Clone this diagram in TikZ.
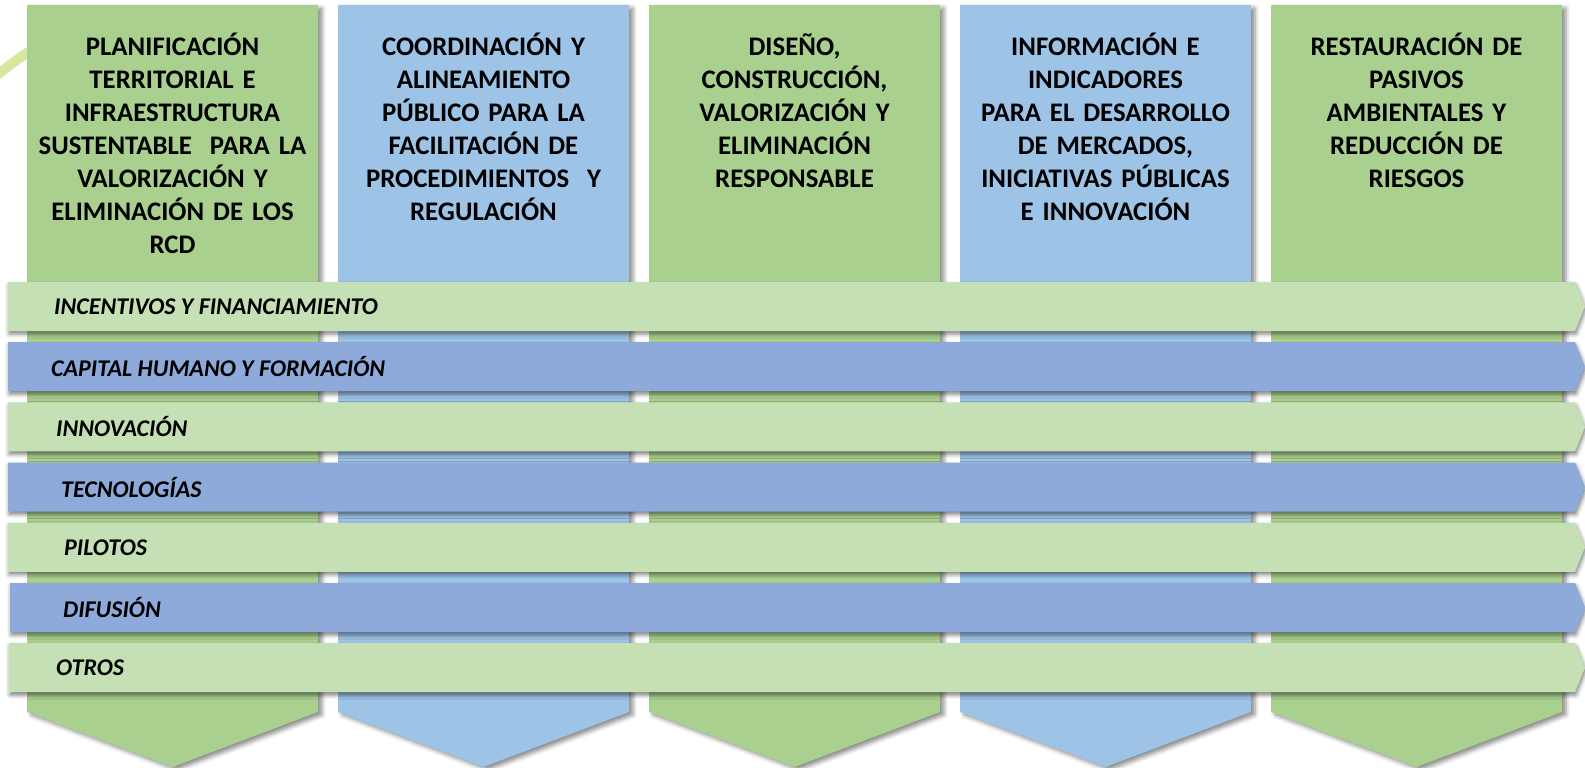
\documentclass[tikz,border=0pt]{standalone}
\usepackage{fontspec}
\setmainfont{Carlito}
\usetikzlibrary{shadows.blur}
\definecolor{colGreen}{RGB}{169, 208, 142}
\definecolor{colBlue}{RGB}{157, 195, 230}
\definecolor{bandGreen}{RGB}{197, 224, 180}
\definecolor{bandBlue}{RGB}{142, 170, 219}
\definecolor{arcGreen}{RGB}{214, 232, 160}

\begin{document}
\begin{tikzpicture}[x=1pt, y=-1pt,
    column/.style={blur shadow={shadow xshift=4pt, shadow yshift=-3pt,
        shadow blur radius=4pt, shadow opacity=45}},
    band/.style={blur shadow={shadow xshift=1pt, shadow yshift=-3pt,
        shadow blur radius=4pt, shadow opacity=50}},
    coltext/.style={anchor=north, inner sep=0pt, text width=285pt, align=center,
        font=\bfseries\fontsize{26.8}{33}\selectfont},
    bandtext/.style={anchor=west, inner sep=0pt,
        font=\bfseries\itshape\fontsize{24}{28}\selectfont}
]
    \useasboundingbox (0,0) rectangle (1585,768);

    % piece of the background arc
    \draw[arcGreen, line width=10pt] (-5,77) to[bend left=4] (35,48);

    % columns
    \foreach \i/\fillc in {0/colGreen, 1/colBlue, 2/colGreen, 3/colBlue, 4/colGreen} {
        \pgfmathsetmacro{\xl}{27+311*\i}
        \fill[column, \fillc] (\xl,5) -- ++(291,0) -- ++(0,707)
            -- ++(-145.5,55) -- ++(-145.5,-55) -- cycle;
    }

    \node[coltext] (plan) at (172.5,33) {PLANIFICACIÓN\\TERRITORIAL E\\INFRAESTRUCTURA\\SUSTENTABLE\ \ PARA LA\\VALORIZACIÓN Y\\ELIMINACIÓN DE LOS\\RCD};
    \node[coltext] (coord) at (483.5,33) {COORDINACIÓN Y\\ALINEAMIENTO\\PÚBLICO PARA LA\\FACILITACIÓN DE\\PROCEDIMIENTOS\ \ Y\\REGULACIÓN};
    \node[coltext] (disen) at (794.5,33) {DISEÑO,\\CONSTRUCCIÓN,\\VALORIZACIÓN Y\\ELIMINACIÓN\\RESPONSABLE};
    \node[coltext] (info) at (1105.5,33) {INFORMACIÓN E\\INDICADORES\\PARA EL DESARROLLO\\DE MERCADOS,\\INICIATIVAS PÚBLICAS\\E INNOVACIÓN};
    \node[coltext] (rest) at (1416.5,33) {RESTAURACIÓN DE\\PASIVOS\\AMBIENTALES Y\\REDUCCIÓN DE\\RIESGOS};

    % bands
    \foreach \j/\fillc/\bx/\tx/\lbl in {0/bandGreen/8/54/INCENTIVOS Y FINANCIAMIENTO,
            1/bandBlue/8/51/CAPITAL HUMANO Y FORMACIÓN,
            2/bandGreen/8/56/INNOVACIÓN,
            3/bandBlue/8/61/TECNOLOGÍAS,
            4/bandGreen/8/64/PILOTOS,
            5/bandBlue/10/63/DIFUSIÓN,
            6/bandGreen/9/56/OTROS} {
        \pgfmathsetmacro{\yt}{282+60.2*\j}
        \fill[band, \fillc] (\bx,\yt) -- (1575,\yt) -- (1585,\yt+24.5)
            -- (1575,\yt+49) -- (\bx,\yt+49) -- cycle;
        \node[bandtext] (band\j) at (\tx,\yt+24.5) {\lbl};
    }
\end{tikzpicture}
\end{document}
